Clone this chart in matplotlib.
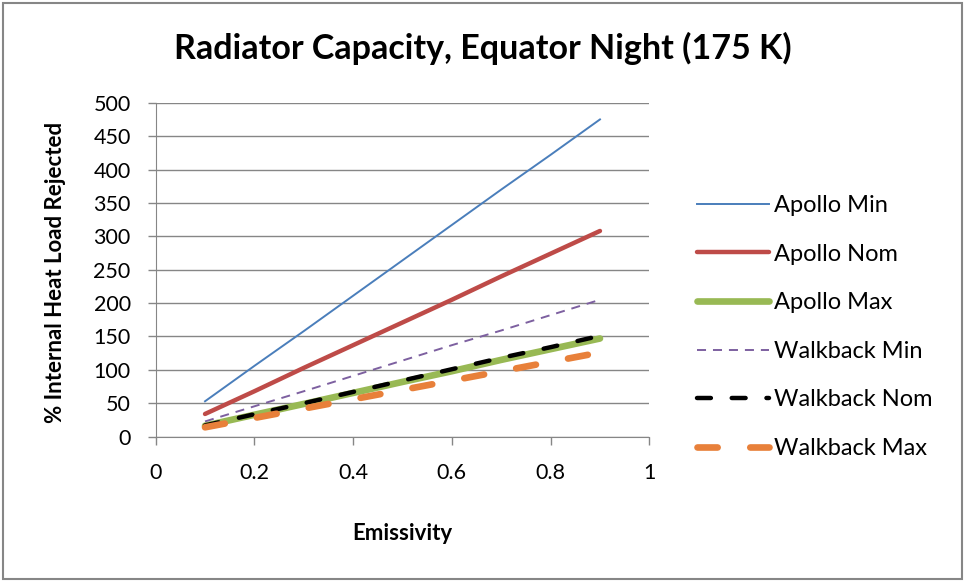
import matplotlib.pyplot as plt
from matplotlib.patches import Rectangle

plt.rcParams['font.family'] = ['Lato', 'DejaVu Sans']
plt.rcParams['lines.scale_dashes'] = False

emissivity = [0.1, 0.2, 0.3, 0.4, 0.5, 0.6, 0.7, 0.8, 0.9]
apollo_min = [53, 106, 158, 211, 264, 317, 370, 422, 475]
apollo_nom = [34, 68, 103, 137, 171, 205, 240, 274, 308]
apollo_max = [16.4, 32.8, 49, 65.5, 82, 98, 115, 131, 147]
walkback_min = [22.8, 45.5, 68, 91, 114, 137, 159, 182, 205]
walkback_nom = [16.8, 33.6, 50, 67, 84, 101, 118, 134, 151]
walkback_max = [14, 28, 42, 56, 70, 84, 98, 112, 126]

grey = '#868686'

fig = plt.figure(figsize=(9.65, 5.82), dpi=100)
ax = fig.add_axes([0.1613, 0.2497, 0.5116, 0.5738])

ax.plot(emissivity, apollo_min, color='#4A7EBB', lw=1.4, label='Apollo Min')
ax.plot(emissivity, apollo_nom, color='#BE4B48', lw=3.2, label='Apollo Nom',
        solid_capstyle='round')
ax.plot(emissivity, apollo_max, color='#98B954', lw=4.8, label='Apollo Max',
        solid_capstyle='round')
ax.plot(emissivity, walkback_min, color='#7D60A0', lw=1.4, dashes=(6.5, 5),
        label='Walkback Min')
ax.plot(emissivity, walkback_nom, color='black', lw=3.2, dashes=(10, 15),
        dash_capstyle='round', label='Walkback Nom')
ax.plot(emissivity, walkback_max, color='#E8803A', lw=4.8, dashes=(14.5, 23.5),
        dash_capstyle='round', label='Walkback Max')

ax.set_xlim(0, 1)
ax.set_ylim(0, 500)
ax.set_xticks([0, 0.2, 0.4, 0.6, 0.8, 1])
ax.set_xticklabels(['0', '0.2', '0.4', '0.6', '0.8', '1'])
ax.set_yticks(range(0, 501, 50))
ax.yaxis.grid(True, color=grey, lw=1)
ax.set_axisbelow(True)
for s in ['top', 'right']:
    ax.spines[s].set_visible(False)
for s in ['left', 'bottom']:
    ax.spines[s].set_color(grey)
ax.tick_params(colors=grey, length=6, width=1, labelcolor='black',
               labelsize=15.5)
ax.tick_params(axis='y', pad=12)
ax.tick_params(axis='x', pad=13)

fig.text(402 / 965, 1 - 533 / 582, 'Emissivity', fontsize=16,
         fontweight='bold', ha='center', va='center')
fig.text(55 / 965, 1 - 272 / 582, '% Internal Heat Load Rejected',
         fontsize=16, fontweight='bold', rotation=90, ha='center',
         va='center')
fig.text(0.5, 1 - 48 / 582, 'Radiator Capacity, Equator Night (175 K)',
         fontsize=24.5, fontweight='bold', ha='center', va='center')

ax.legend(loc='center left', bbox_to_anchor=(697 / 965, 1 - 327 / 582),
          bbox_transform=fig.transFigure, frameon=False, fontsize=17,
          handlelength=3.05, handletextpad=0.2, labelspacing=1.17,
          borderaxespad=0, borderpad=0)

fig.patches.append(Rectangle((0.003, 0.005), 0.994, 0.99, fill=False,
                             edgecolor=grey, lw=1.5,
                             transform=fig.transFigure))

fig.savefig('out.png', dpi=100)
